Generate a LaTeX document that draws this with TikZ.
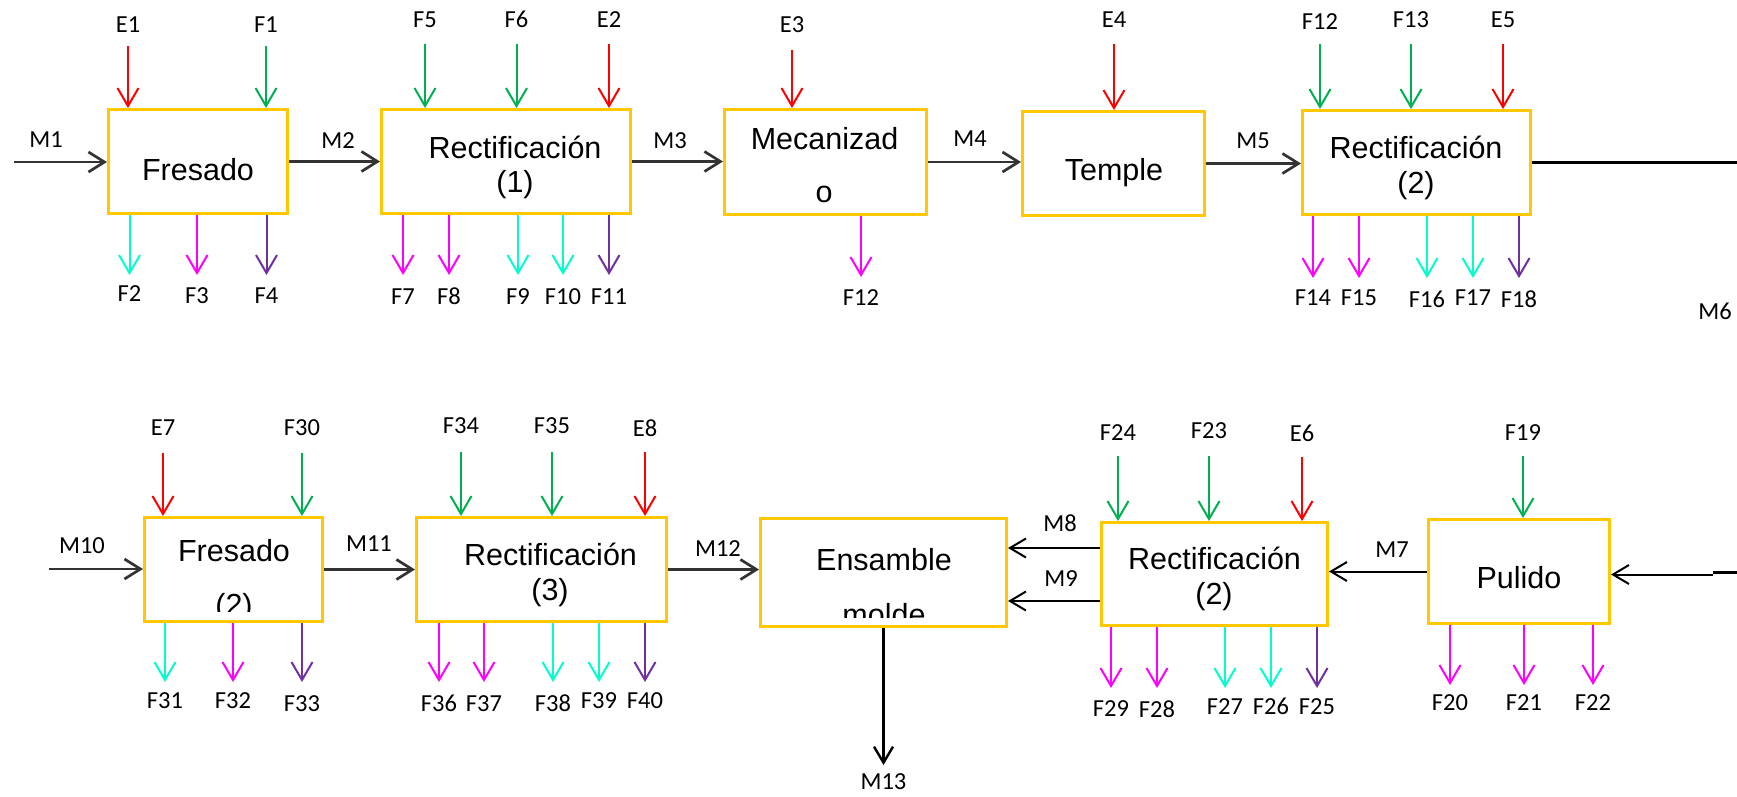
\documentclass[tikz,border=0pt]{standalone}
\usepackage{fontspec}
\setmainfont{Liberation Sans}
\newfontfamily\labelfont{Carlito}
\usetikzlibrary{arrows.meta}

\definecolor{boxgold}{HTML}{FFC800}
\definecolor{flowred}{HTML}{FF0000}
\definecolor{flowgreen}{HTML}{00B050}
\definecolor{flowcyan}{HTML}{00FFCC}
\definecolor{flowmag}{HTML}{FF00FF}
\definecolor{flowpurple}{HTML}{7030A0}
\definecolor{maingray}{HTML}{333333}

\begin{document}
\begin{tikzpicture}[x=1pt,y=-1pt,
  stage/.style={draw=boxgold, line width=3pt, rectangle, inner sep=0pt},
  stagetext/.style={font=\fontsize{30.5}{36}\selectfont, anchor=base, inner sep=0pt},
  lbl/.style={font=\labelfont\fontsize{24.5}{28}\selectfont, inner sep=0pt,
    text height=16pt, text depth=0pt, anchor=center},
  flow/.style={line width=2pt, -{Straight Barb[length=18pt,width=21pt]}},
  mainflow/.style={line width=2.7pt, draw=maingray, -{Straight Barb[length=16pt,width=20pt]}},
  backflow/.style={line width=2pt, draw=black, -{Straight Barb[length=16pt,width=19pt]}}
]
\fill[white] (0,0) rectangle (1737,796);
\useasboundingbox (0,0) rectangle (1737,796);

% ---------- process stages, upper line ----------
\node[stage, minimum width=179pt, minimum height=104pt] (fres)   at (198,161.5)  {};
\node[stage, minimum width=249pt, minimum height=104pt] (rect1)  at (506,161.5)  {};
\node[stage, minimum width=202pt, minimum height=105pt] (mec)    at (825.5,162)  {};
\node[stage, minimum width=182pt, minimum height=104pt] (temple) at (1113.5,163.5) {};
\node[stage, minimum width=228pt, minimum height=104pt] (rect2)  at (1416.5,162.5) {};

% ---------- process stages, lower line ----------
\node[stage, minimum width=178pt, minimum height=104pt] (fres2)  at (233.5,569.5) {};
\node[stage, minimum width=250pt, minimum height=104pt] (rect3)  at (541.5,569.5) {};
\node[stage, minimum width=246pt, minimum height=108pt] (ens)    at (883.5,572.5) {};
\node[stage, minimum width=226pt, minimum height=103pt] (rect2b) at (1214.5,574)  {};
\node[stage, minimum width=181pt, minimum height=104pt] (pul)    at (1519,571.5)  {};

% ---------- stage names ----------
\node[stagetext] (fres-t)    at (198,180)    {Fresado};
\node[stagetext] (rect1-t)   at (515,158)    {Rectificación};
\node[stagetext] (rect1-n)   at (515,192)    {(1)};
\node[stagetext] (mec-t)     at (824.5,149)  {Mecanizad};
\node[stagetext] (mec-n)     at (824,202)    {o};
\node[stagetext] (temple-t)  at (1114,180)   {Temple};
\node[stagetext] (rect2-t)   at (1416,158)   {Rectificación};
\node[stagetext] (rect2-n)   at (1416,193)   {(2)};
\begin{scope}
  \clip (143,516) rectangle (324,611);
  \node[stagetext] (fres2-t) at (234,561)    {Fresado};
  \node[stagetext] (fres2-n) at (234,615)    {(2)};
\end{scope}
\node[stagetext] (rect3-t)   at (550.5,565)  {Rectificación};
\node[stagetext] (rect3-n)   at (550,600)    {(3)};
\begin{scope}
  \clip (759,517) rectangle (1008,617);
  \node[stagetext] (ens-t)   at (884,570)    {Ensamble};
  \node[stagetext] (ens-n)   at (884,625)    {molde};
\end{scope}
\node[stagetext] (rect2b-t)  at (1214.5,569) {Rectificación};
\node[stagetext] (rect2b-n)  at (1214,604)   {(2)};
\node[stagetext] (pul-t)     at (1519,588)   {Pulido};

% ---------- inputs from above: name/x/label y/start y/stage/colour ----------
\foreach \n/\x/\ly/\sy/\b/\c in {
  E1/128/24/46/fres/flowred, F1/266/24/46/fres/flowgreen,
  F5/425/19/44/rect1/flowgreen, F6/516.5/19/44/rect1/flowgreen, E2/609/19/44/rect1/flowred,
  E3/792/24/50/mec/flowred,
  E4/1114/19/44/temple/flowred,
  F12/1320/21/44/rect2/flowgreen, F13/1411/19/44/rect2/flowgreen, E5/1503/19/44/rect2/flowred,
  E7/163/427/453/fres2/flowred, F30/302/427/453/fres2/flowgreen,
  F34/461/425/452/rect3/flowgreen, F35/552/425/452/rect3/flowgreen, E8/645/428/452/rect3/flowred,
  F24/1118/432/456/rect2b/flowgreen, F23/1209/430/456/rect2b/flowgreen, E6/1302/433/457/rect2b/flowred,
  F19/1523/432/456/pul/flowgreen}
{
  \node[lbl] (in-\n) at (\x,\ly) {\n};
  \coordinate (in-\n-s) at (\x,\sy);
  \draw[flow, draw=\c] (in-\n-s) -- (in-\n-s |- \b.north);
}

% ---------- outputs below: name/x/end y/label y/stage/colour ----------
\foreach \n/\x/\ey/\ly/\b/\c in {
  F2/129.5/275/293/fres/flowcyan, F3/197/275/295/fres/flowmag, F4/266.5/275/295/fres/flowpurple,
  F7/403/275/296/rect1/flowmag, F8/449/275/296/rect1/flowmag, F9/518/275/296/rect1/flowcyan,
  F10/563/275/296/rect1/flowcyan, F11/609/275/296/rect1/flowpurple,
  F12/861/277/297/mec/flowmag,
  F14/1313/278/297/rect2/flowmag, F15/1359/278/297/rect2/flowmag, F16/1427/278/299/rect2/flowcyan,
  F17/1473/278/297/rect2/flowcyan, F18/1519/278/299/rect2/flowpurple,
  F31/165/682/700/fres2/flowcyan, F32/233/682/700/fres2/flowmag, F33/302/682/703/fres2/flowpurple,
  F36/439/682/703/rect3/flowmag, F37/484/682/703/rect3/flowmag, F38/553/682/703/rect3/flowcyan,
  F39/599/682/700/rect3/flowcyan, F40/645/682/700/rect3/flowpurple,
  F29/1111/688/708/rect2b/flowmag, F28/1157/688/709/rect2b/flowmag, F27/1225/688/706/rect2b/flowcyan,
  F26/1271/688/706/rect2b/flowcyan, F25/1317/688/706/rect2b/flowpurple,
  F20/1450/685/702/pul/flowmag, F21/1524/685/702/pul/flowmag, F22/1593/685/702/pul/flowmag}
{
  \node[lbl] (out-\n) at (\x,\ly) {\n};
  \coordinate (out-\n-e) at (\x,\ey);
  \draw[flow, draw=\c] (out-\n-e |- \b.south) -- (out-\n-e);
}

% ---------- main material flow ----------
\coordinate (m1s)  at (14,162);
\coordinate (m6e)  at (1737,163);
\coordinate (m10s) at (49,569);
\coordinate (pin)  at (1713,574.5);
\coordinate (stubA) at (1713,572.5);
\coordinate (stubB) at (1737,572.5);
\coordinate (m13e) at (883,765);
\coordinate (m8a)  at ([yshift=26pt]rect2b.west);
\coordinate (m9a)  at ([yshift=-27pt]rect2b.west);

\draw[mainflow] (m1s) -- (m1s -| fres.west);
\draw[mainflow] (fres.east) -- (fres.east -| rect1.west);
\draw[mainflow] (rect1.east) -- (rect1.east -| mec.west);
\draw[mainflow] (mec.east) -- (mec.east -| temple.west);
\draw[mainflow] (temple.east) -- (temple.east -| rect2.west);
\draw[line width=2.3pt] (rect2.east) -- (rect2.east -| m6e);

\draw[line width=3.6pt] (stubA) -- (stubB);
\draw[backflow] (pin) -- (pin -| pul.east);
\draw[backflow] (pul.west) -- (pul.west -| rect2b.east);
\draw[backflow] (m8a) -- (m8a -| ens.east);
\draw[backflow] (m9a) -- (m9a -| ens.east);
\draw[backflow, line width=2.4pt] (ens.south) -- (ens.south |- m13e);

\draw[mainflow] (m10s) -- (m10s -| fres2.west);
\draw[mainflow] (fres2.east) -- (fres2.east -| rect3.west);
\draw[mainflow] (rect3.east) -- (rect3.east -| ens.west);

% ---------- material stream labels ----------
\node[lbl] (M1)  at (46,139)   {M1};
\node[lbl] (M2)  at (338,140)  {M2};
\node[lbl] (M3)  at (670,140)  {M3};
\node[lbl] (M4)  at (970,138)  {M4};
\node[lbl] (M5)  at (1253,140) {M5};
\node[lbl] (M6)  at (1715,311) {M6};
\node[lbl] (M7)  at (1392,549) {M7};
\node[lbl] (M8)  at (1060,523) {M8};
\node[lbl] (M9)  at (1061,578) {M9};
\node[lbl] (M10) at (82,545)   {M10};
\node[lbl] (M11) at (369,543)  {M11};
\node[lbl] (M12) at (718,548)  {M12};
\node[lbl] (M13) at (883.5,781) {M13};
\end{tikzpicture}
\end{document}
